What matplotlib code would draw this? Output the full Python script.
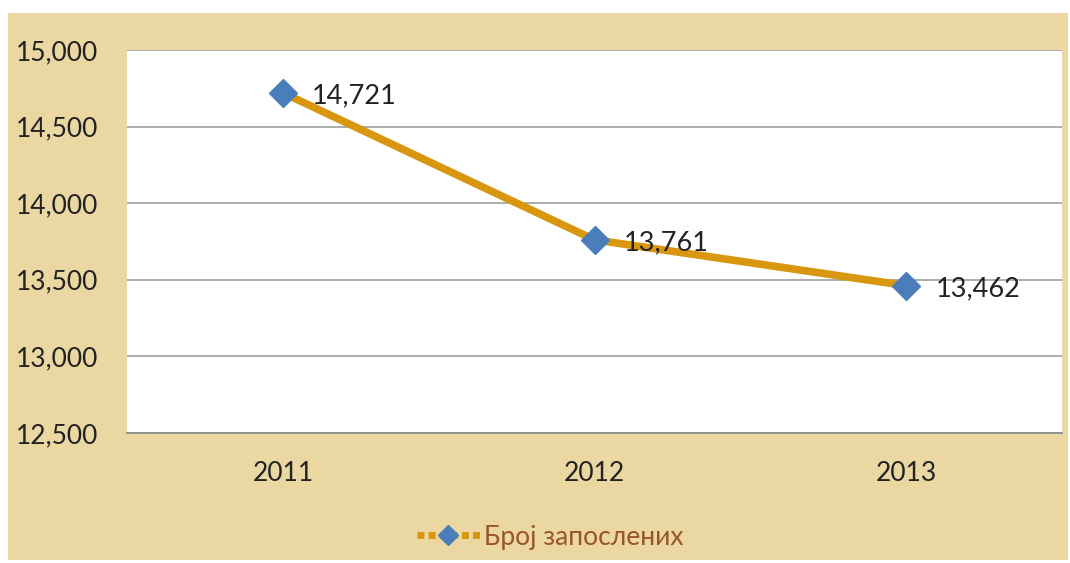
import matplotlib

matplotlib.use("Agg")
import matplotlib.pyplot as plt
from matplotlib.lines import Line2D
from matplotlib.patches import Rectangle
from matplotlib.ticker import FuncFormatter

years = ["2011", "2012", "2013"]
employees = [14721, 13761, 13462]
series_name = "Број запослених"

W, H, DPI = 1070, 563, 100
PAPER = "#EAD7A2"
LINE = "#D9960F"
MARKER = "#4A7EBB"

plt.rcParams["font.family"] = ["Lato", "DejaVu Sans"]

fig = plt.figure(figsize=(W / DPI, H / DPI), dpi=DPI, facecolor="white")

# tan paper panel behind the chart
fig.patches.append(Rectangle((8 / W, 3 / H), 1060 / W, 547 / H,
                             transform=fig.transFigure, facecolor=PAPER,
                             edgecolor="none", zorder=-10))

ax = fig.add_axes([127 / W, 1 - 433 / H, (1062 - 127) / W, (433 - 50) / H])
ax.set_facecolor("white")
x = range(len(years))
ax.plot(x, employees, color=LINE, linewidth=5.5, solid_capstyle="round", zorder=3)
ax.plot(x, employees, linestyle="none", marker="D", markersize=14,
        color=MARKER, markeredgecolor=MARKER, zorder=4)
for xi, v in zip(x, employees):
    ax.annotate(f"{v:,}", (xi, v), xytext=(21, -2), textcoords="offset points",
                ha="left", va="center", fontsize=19.5, color="#222222", zorder=5)

ax.set_xlim(-0.5, len(years) - 0.5)
ax.set_ylim(12500, 15000)
ax.set_yticks(range(12500, 15001, 500))
ax.yaxis.set_major_formatter(FuncFormatter(lambda v, _: f"{int(v):,}"))
ax.set_xticks(list(x))
ax.set_xticklabels(years)
ax.grid(axis="y", color="#A6A6A6", linewidth=1.3)
ax.set_axisbelow(True)
for side in ("top", "right", "left"):
    ax.spines[side].set_visible(False)
ax.spines["bottom"].set_color("#8C8C8C")
ax.spines["bottom"].set_linewidth(1.3)
ax.tick_params(axis="both", length=0, labelsize=19, labelcolor="#222222")
ax.tick_params(axis="y", pad=21)
ax.tick_params(axis="x", pad=20)

handle = Line2D([], [], color=LINE, linewidth=5, linestyle=(0, (1, 0.6)),
                marker="D", markersize=10, markerfacecolor=MARKER,
                markeredgecolor=MARKER)
fig.legend([handle], [series_name], loc="center", bbox_to_anchor=(550 / W, 1 - 537 / H),
           frameon=False, fontsize=19, labelcolor="#9A5527", handlelength=2.4,
           handletextpad=0.15)

fig.savefig("out.png", dpi=DPI, facecolor="white")
